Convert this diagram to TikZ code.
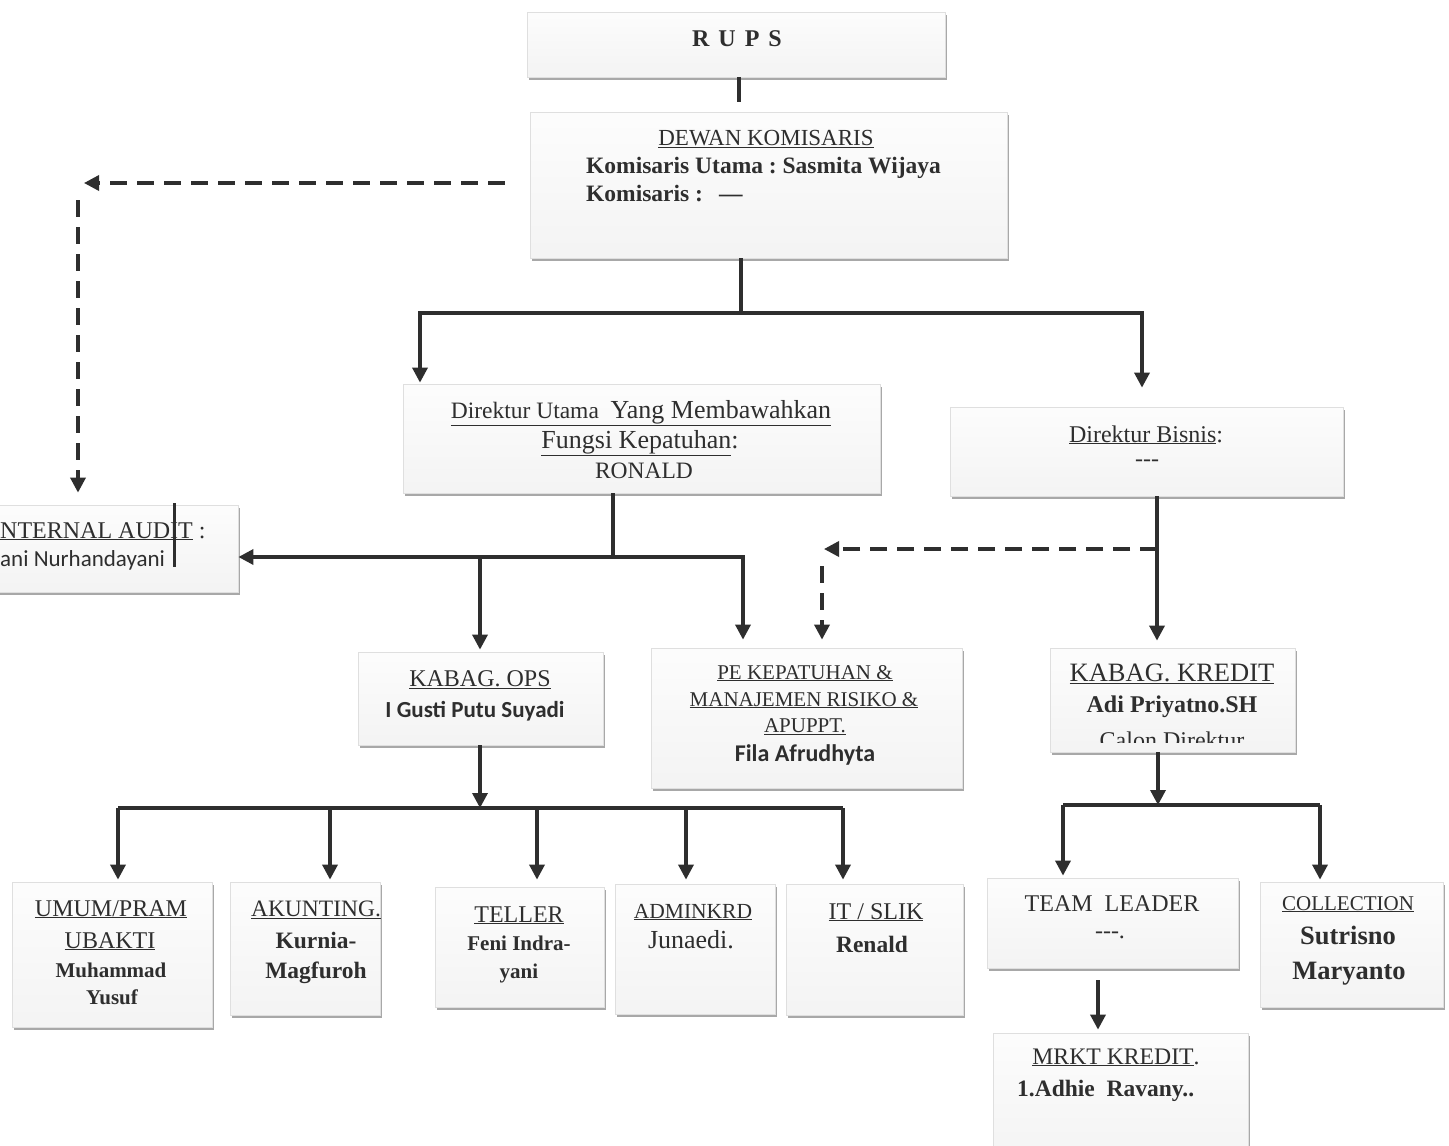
\documentclass[tikz,border=0pt]{standalone}
\usepackage{fontspec}
\setmainfont{Liberation Serif}
\newfontfamily\calib{Carlito}
\usetikzlibrary{arrows.meta,shadows,fit}
\newcommand{\fsz}[1]{\fontsize{#1}{#1}\selectfont}
\definecolor{ink}{HTML}{2E2E2E}
\frenchspacing
\begin{document}
\begin{tikzpicture}[x=1pt,y=-1pt,
 box/.style={draw=gray!25, line width=0.8pt, top color=gray!2, bottom color=gray!9, inner sep=0pt,
   drop shadow={shadow xshift=2pt, shadow yshift=-3pt, fill=gray!75, opacity=0.9}},
 ln/.style={draw=ink, line width=3.4pt},
 arr/.style={ln, -{Triangle[length=15pt,width=15pt]}},
 dsh/.style={arr, dash pattern=on 17pt off 10pt},
 txt/.style={inner sep=0pt, anchor=base, text=ink},
]
\useasboundingbox (0,0) rectangle (1449,1146);
\fill[white] (0,0) rectangle (1449,1146);
\clip (0,0) rectangle (1449,1146);

% boxes
\node[box, fit={(527,12) (945,77)}] (rups) {};
\node[box, fit={(530,112) (1007,258)}] (dewan) {};
\node[box, fit={(403,384) (880,493)}] (diru) {};
\node[box, fit={(950,407) (1343,496)}] (dirb) {};
\node[box, fit={(-10,505) (238,592)}] (audit) {};
\node[box, fit={(358,652) (603,745)}] (ops) {};
\node[box, fit={(651,648) (962,788)}] (pe) {};
\node[box, fit={(1050,648) (1295,752)}] (kredit) {};
\node[box, fit={(12,882) (212,1027)}] (umum) {};
\node[box, fit={(230,882) (380,1015)}] (akun) {};
\node[box, fit={(435,887) (604,1007)}] (teller) {};
\node[box, fit={(615,884) (775,1014)}] (admin) {};
\node[box, fit={(786,884) (963,1015)}] (it) {};
\node[box, fit={(987,878) (1238,968)}] (tl) {};
\node[box, fit={(1260,882) (1443,1007)}] (coll) {};
\node[box, fit={(993,1033) (1248,1160)}] (mrkt) {};

% texts
\node[txt, font=\bfseries\fsz{24}] (t1) at (737,46) {R\hspace{9pt}U\hspace{9pt}P\hspace{9pt}S};
\node[txt, font=\fsz{23}] (t2) at (766,145) {\underline{DEWAN KOMISARIS}};
\node[txt, anchor=base west, font=\bfseries\fsz{23.5}] (t3) at (586,173) {Komisaris Utama : Sasmita Wijaya};
\node[txt, anchor=base west, font=\bfseries\fsz{23.5}] (t4) at (586,201) {Komisaris :\hspace{16pt}---};

\node[txt] (t5) at (641,418) {\underline{\fsz{23.5}Direktur Utama\ \ \fsz{26}Yang Membawahkan}};
\node[txt, font=\fsz{26}] (t6) at (640,448) {\underline{Fungsi Kepatuhan}:};
\node[txt, font=\fsz{23.5}] (t7) at (644,478) {RONALD};

\node[txt, font=\fsz{24}] (t8) at (1146,442) {\underline{Direktur Bisnis}:};
\node[txt, font=\fsz{24}] (t9) at (1147,466) {{-}{-}{-}};

\node[txt, anchor=base west, font=\fsz{24}] (t10) at (-8,538) {\underline{INTERNAL AUDIT} :};
\node[txt, anchor=base west, font=\calib\fsz{23}] (t11) at (0,566) {ani Nurhandayani};
\draw[ink, line width=3pt] (174,503) -- (174,567);

\node[txt, font=\fsz{24}] (t12) at (480,686) {\underline{KABAG. OPS}};
\node[txt, font=\calib\bfseries\fsz{23}] (t13) at (475,717) {I Gusti Putu Suyadi};

\node[txt, font=\fsz{21}] (t14) at (805,679) {\underline{PE KEPATUHAN \&}};
\node[txt, font=\fsz{21}] (t15) at (804,706) {\underline{MANAJEMEN RISIKO \&}};
\node[txt, font=\fsz{21}] (t16) at (805,732) {\underline{APUPPT.}};
\node[txt, font=\calib\bfseries\fsz{24}] (t17) at (805,761) {Fila Afrudhyta};

\node[txt, font=\fsz{26.5}] (t18) at (1172,681) {\underline{KABAG. KREDIT}};
\node[txt, font=\bfseries\fsz{24}] (t19) at (1172,712) {Adi Priyatno.SH};
\begin{scope}
\clip (1050,648) rectangle (1295,742);
\node[txt, font=\fsz{24}] (t20) at (1172,748) {Calon Direktur};
\end{scope}

\node[txt, font=\fsz{24}] (t21) at (111,916) {\underline{UMUM/PRAM}};
\node[txt, font=\fsz{24}] (t22) at (110,948) {\underline{UBAKTI}};
\node[txt, font=\bfseries\fsz{21}] (t23) at (111,977) {Muhammad};
\node[txt, font=\bfseries\fsz{21}] (t24) at (112,1004) {Yusuf};

\node[txt, font=\fsz{23.5}] (t25) at (316,916) {\underline{AKUNTING.}};
\node[txt, font=\bfseries\fsz{23.5}] (t26) at (316,948) {Kurnia-};
\node[txt, font=\bfseries\fsz{23.5}] (t27) at (316,978) {Magfuroh};

\node[txt, font=\fsz{24}] (t28) at (519,922) {\underline{TELLER}};
\node[txt, font=\bfseries\fsz{21}] (t29) at (519,950) {Feni Indra-};
\node[txt, font=\bfseries\fsz{21}] (t30) at (519,978) {yani};

\node[txt, font=\fsz{21.5}] (t31) at (693,918) {\underline{ADMINKRD}};
\node[txt, font=\fsz{26}] (t32) at (691,948) {Junaedi.};

\node[txt, font=\fsz{24}] (t33) at (876,919) {\underline{IT / SLIK}};
\node[txt, font=\bfseries\fsz{23.5}] (t34) at (872,952) {Renald};

\node[txt, font=\fsz{24}] (t35) at (1112,911) {TEAM\ \ LEADER};
\node[txt, font=\fsz{24}] (t36) at (1110,938) {{-}{-}{-}.};

\node[txt, font=\fsz{21}] (t37) at (1348,910) {\underline{COLLECTION}};
\node[txt, font=\bfseries\fsz{26.5}] (t38) at (1348,944) {Sutrisno};
\node[txt, font=\bfseries\fsz{26.5}] (t39) at (1349,979) {Maryanto};

\node[txt, font=\fsz{23.7}] (t40) at (1116,1064) {\underline{MRKT KREDIT}.};
\node[txt, anchor=base west, font=\bfseries\fsz{23.5}] (t41) at (1017,1096) {1.Adhie\ \ Ravany..};

% connectors
\draw[ln, shorten >=10pt] (739,0 |- rups.south) -- (739,0 |- dewan.north);

\coordinate (da) at (84,183);
\coordinate (db) at (78,200);
\draw[dsh, shorten <=25pt] (0,183 -| dewan.west) -- (da);
\draw[dsh, shorten >=12pt] (db) -- (78,0 |- audit.north);

\coordinate (j1) at (741,313);
\draw[ln] (741,0 |- dewan.south) -- (j1);
\draw[arr, shorten >=1pt] (j1) -- (420,0 |- j1) -- (420,0 |- diru.north);
\draw[arr, shorten >=19pt] (j1) -- (1142,0 |- j1) -- (1142,0 |- dirb.north);

\coordinate (j2) at (613,557);
\draw[ln] (613,0 |- diru.south) -- (j2);
\draw[arr] (j2) -- (audit.east |- j2);
\draw[arr, shorten >=2pt] (j2) -- (480,0 |- j2) -- (480,0 |- ops.north);
\draw[arr, shorten >=8pt] (j2) -- (743,0 |- j2) -- (743,0 |- pe.north);

\coordinate (j5) at (1157,549);
\coordinate (dc) at (824,549);
\coordinate (dd) at (822,566);
\draw[arr, shorten >=7pt] (1157,0 |- dirb.south) -- (1157,0 |- kredit.north);
\draw[dsh] (j5) -- (dc);
\draw[dsh, shorten >=8pt] (dd) -- (822,0 |- pe.north);

\coordinate (j3) at (480,808);
\draw[arr] (480,0 |- ops.south) -- (j3);
\draw[ln] (118,0 |- j3) -- (843,0 |- j3);
\draw[arr, shorten >=2pt] (118,0 |- j3) -- (118,0 |- umum.north);
\draw[arr, shorten >=2pt] (330,0 |- j3) -- (330,0 |- akun.north);
\draw[arr, shorten >=7pt] (537,0 |- j3) -- (537,0 |- teller.north);
\draw[arr, shorten >=4pt] (686,0 |- j3) -- (686,0 |- admin.north);
\draw[arr, shorten >=4pt] (843,0 |- j3) -- (843,0 |- it.north);

\coordinate (j4) at (1158,805);
\draw[arr] (1158,0 |- kredit.south) -- (j4);
\draw[ln] (1063,0 |- j4) -- (1320,0 |- j4);
\draw[arr, shorten >=2pt] (1063,0 |- j4) -- (1063,0 |- tl.north);
\draw[arr, shorten >=2pt] (1320,0 |- j4) -- (1320,0 |- coll.north);
\draw[arr, shorten <=12pt, shorten >=3pt] (1098,0 |- tl.south) -- (1098,0 |- mrkt.north);
\end{tikzpicture}
\end{document}
